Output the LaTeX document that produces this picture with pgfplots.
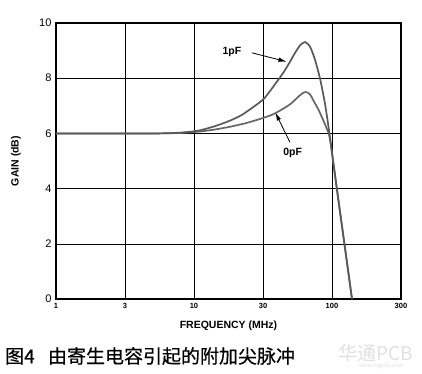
\documentclass[border=0pt]{standalone}
\usepackage{fontspec}
\setmainfont{Liberation Sans}
\newfontfamily\cjk{Noto Sans CJK SC}
\newfontfamily\cjkb{Noto Sans CJK SC}[FakeBold=0.5]
\usepackage{pgfplots}
\pgfplotsset{compat=1.18}
\usetikzlibrary{arrows.meta}
\begin{document}
\begin{tikzpicture}
\begin{axis}[
  scale only axis,
  width=345pt, height=276pt,
  xmin=0, xmax=5, ymin=0, ymax=10,
  xtick={0,1,2,3,4,5},
  xticklabels={1,3,10,30,100,300},
  ytick={0,2,4,6,8,10},
  major tick length=0pt,
  grid=major,
  major grid style={black, line width=0.6pt},
  axis line style={black, line width=1.3pt},
  /pgf/number format/assume math mode=true,
  xticklabel style={font=\fontsize{7.5}{8}\selectfont\bfseries, yshift=-1pt},
  yticklabel style={font=\fontsize{11}{12}\selectfont, xshift=-1pt},
  xlabel={FREQUENCY (MHz)},
  xlabel style={font=\fontsize{10.5}{11}\selectfont\bfseries, at={(axis description cs:0.5,0)}, anchor=center, yshift=-26.5pt},
  clip=true,
]
% 0pF
\addplot[black!60, line width=1.7pt, smooth, tension=0.4] coordinates {
 (0,6.0) (1.0,6.0) (1.5,6.0) (1.84,6.02) (2.09,6.07) (2.3,6.14) (2.52,6.24)
 (2.75,6.37) (2.99,6.55) (3.17,6.72) (3.39,7.05) (3.5,7.3) (3.57,7.45) (3.62,7.5)
 (3.68,7.42) (3.74,7.15) (3.8,6.88) (3.86,6.55) (3.92,6.2) (3.97,5.8) (4.07,4.0) (4.18,2.0) (4.29,0.0)
};
% 1pF
\addplot[black!65, line width=1.7pt, smooth, tension=0.4] coordinates {
 (0,6.0) (1.0,6.0) (1.5,6.0) (1.75,6.02) (1.95,6.06) (2.1,6.12) (2.3,6.26)
 (2.5,6.44) (2.7,6.68) (2.99,7.2) (3.1,7.53) (3.2,7.87) (3.3,8.22) (3.39,8.59)
 (3.46,8.9) (3.54,9.2) (3.61,9.31) (3.68,9.15) (3.75,8.7) (3.83,7.95) (3.9,7.05)
 (3.96,6.05) (4.07,4.0) (4.18,2.0) (4.29,0.0)
};
\node[font=\fontsize{10.5}{11}\selectfont\bfseries] at (axis cs:2.55,8.95) {1pF};
\draw[black, -{Latex[length=8pt,width=4.5pt]}, line width=0.8pt] (axis cs:2.84,8.92) -- (axis cs:3.34,8.6);
\node[font=\fontsize{10.5}{11}\selectfont\bfseries] at (axis cs:3.43,5.29) {0pF};
\draw[black, -{Latex[length=8pt,width=4.5pt]}, line width=0.8pt] (axis cs:3.39,5.68) -- (axis cs:3.18,6.75);
\end{axis}
\node[rotate=90, font=\fontsize{10.5}{11}\selectfont\bfseries] at (-40pt,138pt) {GAIN (dB)};
\node[anchor=west, inner sep=0pt, font=\cjkb\fontsize{19}{20}\selectfont] at (-51pt,-57pt) {图4\hspace{0.7em}由寄生电容引起的附加尖脉冲};
\node[anchor=center, inner sep=0pt, text=black!12, font=\fontsize{19}{20}\selectfont] at (320pt,-54pt) {\cjk 华通PCB};
\node[anchor=center, inner sep=0pt, text=black!12, font=\fontsize{6}{7}\selectfont] at (325pt,-67pt) {www.hqpcb.com};
\path[use as bounding box] (-56pt,-74pt) rectangle (366pt,299pt);
\end{tikzpicture}
\end{document}
